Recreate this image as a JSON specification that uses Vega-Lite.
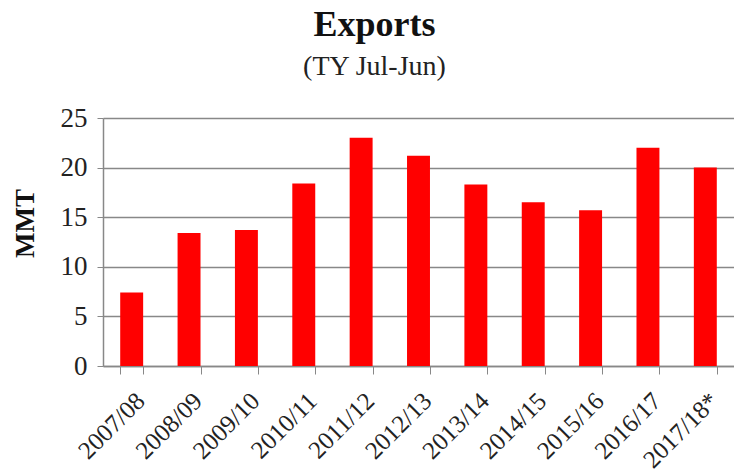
{
  "$schema": "https://vega.github.io/schema/vega-lite/v6.json",
  "autosize": "none",
  "padding": {"left": 103, "top": 118, "right": 0, "bottom": 107},
  "width": 631,
  "height": 248,
  "background": "white",
  "title": {
    "text": "Exports",
    "subtitle": "(TY Jul-Jun)",
    "anchor": "middle",
    "dx": -44,
    "offset": 22,
    "font": "Liberation Serif",
    "fontSize": 36,
    "fontWeight": "bold",
    "color": "#111",
    "subtitleFont": "Liberation Serif",
    "subtitleFontSize": 28,
    "subtitleColor": "#222",
    "subtitlePadding": 9
  },
  "data": {
    "values": [
      {"year": "2007/08", "exports": 7.4},
      {"year": "2008/09", "exports": 13.4},
      {"year": "2009/10", "exports": 13.7},
      {"year": "2010/11", "exports": 18.4},
      {"year": "2011/12", "exports": 23.0},
      {"year": "2012/13", "exports": 21.2},
      {"year": "2013/14", "exports": 18.3},
      {"year": "2014/15", "exports": 16.5},
      {"year": "2015/16", "exports": 15.7},
      {"year": "2016/17", "exports": 22.0},
      {"year": "2017/18*", "exports": 20.0}
    ]
  },
  "mark": {"type": "bar", "color": "#ff0000"},
  "encoding": {
    "x": {
      "field": "year",
      "type": "nominal",
      "sort": null,
      "scale": {"paddingInner": 0.6, "paddingOuter": 0.3},
      "axis": {
        "title": null,
        "labelAngle": -45,
        "labelFont": "Liberation Serif",
        "labelFontSize": 25,
        "labelColor": "#222",
        "labelPadding": 14,
        "tickBand": "extent",
        "tickSize": 8,
        "tickColor": "#888",
        "domainColor": "#888",
        "domainWidth": 1.5,
        "grid": false
      }
    },
    "y": {
      "field": "exports",
      "type": "quantitative",
      "scale": {"domain": [0, 25], "nice": false},
      "axis": {
        "title": "MMT",
        "titleFont": "Liberation Serif",
        "titleFontSize": 27,
        "titleFontWeight": "bold",
        "titleColor": "#111",
        "titleAngle": -90,
        "titleAlign": "center",
        "titleBaseline": "middle",
        "titleX": -78,
        "titleY": 105,
        "values": [0, 5, 10, 15, 20, 25],
        "labelFont": "Liberation Serif",
        "labelFontSize": 27,
        "labelColor": "#222",
        "labelPadding": 10,
        "tickSize": 6,
        "tickColor": "#888",
        "domainColor": "#888",
        "domainWidth": 1.5,
        "grid": true,
        "gridColor": "#888",
        "gridWidth": 1.5
      }
    }
  },
  "config": {
    "view": {"stroke": null}
  }
}
